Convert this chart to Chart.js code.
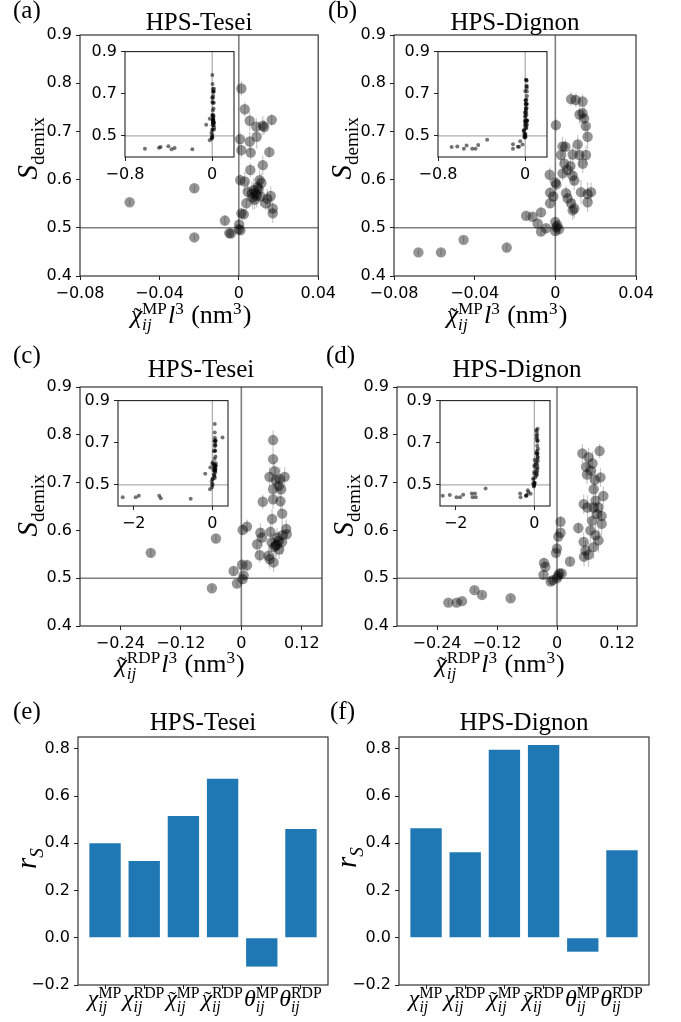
<!DOCTYPE html>
<html>
<head>
<meta charset="utf-8">
<script src="https://cdn.jsdelivr.net/npm/chart.js@4.4.1/dist/chart.umd.min.js"></script>
<style>
  body { margin: 0; width: 681px; height: 1022px; position: relative; background: #fff; overflow: hidden; }
  canvas { position: absolute; }
</style>
</head>
<body>
<script>
// ---- data ----
// (a) HPS-Tesei, MP parameter (last points only show in the inset)
const aX = [-0.055, -0.0224, -0.0224, -0.0070, -0.0048, -0.0040, 0.0000, 0.0008, 0.0002, 0.0013, 0.0025, 0.0007, 0.0013, 0.0030, 0.0055, 0.0088, 0.0121, 0.0128, 0.0166, 0.0006, 0.0055, 0.0013, 0.0060, 0.0154, 0.0121, 0.0058, 0.0030, 0.0105, 0.0045, 0.0065, 0.0090, 0.0038, 0.0080, 0.0144, 0.0161, 0.0171, 0.0171, 0.0135, 0.0114, 0.0090, 0.0075, 0.0100, 0.0085, 0.0110, 0.0070, 0.0095, -0.617, -0.488, -0.473, -0.402, -0.372, -0.345, -0.182];
const aY = [0.553, 0.582, 0.480, 0.515, 0.489, 0.488, 0.497, 0.495, 0.507, 0.530, 0.528, 0.599, 0.789, 0.746, 0.722, 0.710, 0.712, 0.709, 0.724, 0.684, 0.679, 0.661, 0.656, 0.657, 0.630, 0.620, 0.596, 0.599, 0.575, 0.571, 0.567, 0.551, 0.558, 0.560, 0.566, 0.540, 0.530, 0.551, 0.593, 0.689, 0.578, 0.580, 0.572, 0.565, 0.563, 0.585, 0.439, 0.444, 0.448, 0.451, 0.437, 0.443, 0.437];
const aE = [0.006, 0.008, 0.006, 0.010, 0.006, 0.006, 0.010, 0.008, 0.008, 0.012, 0.010, 0.012, 0.015, 0.015, 0.020, 0.018, 0.020, 0.015, 0.012, 0.015, 0.020, 0.015, 0.015, 0.012, 0.020, 0.015, 0.020, 0.020, 0.020, 0.025, 0.025, 0.015, 0.020, 0.020, 0.020, 0.015, 0.020, 0.015, 0.020, 0.025, 0.025, 0.020, 0.020, 0.020, 0.025, 0.020, 0.005, 0.005, 0.005, 0.005, 0.005, 0.005, 0.005];
// (b) HPS-Dignon, MP
const bX = [-0.0679, -0.0567, -0.0455, -0.0241, -0.0145, -0.0113, -0.0088, -0.0071, -0.0071, -0.0046, -0.0026, -0.0026, -0.0010, 0.0000, 0.0005, 0.0000, 0.0000, 0.0005, 0.0018, 0.0003, 0.0028, 0.0045, 0.0036, 0.0050, 0.0036, 0.0060, 0.0075, 0.0078, 0.0102, 0.0135, 0.0135, 0.0120, 0.0143, 0.0151, 0.0160, 0.0111, 0.0086, 0.0119, 0.0152, 0.0136, 0.0086, 0.0094, 0.0053, 0.0061, 0.0078, 0.0094, 0.0086, 0.0127, 0.0160, 0.0177, 0.0160, -0.0028, 0.0010, -0.675, -0.623, -0.563, -0.538, -0.486, -0.456, -0.431, -0.349, -0.112, -0.112];
const bY = [0.449, 0.449, 0.475, 0.459, 0.525, 0.523, 0.509, 0.532, 0.492, 0.499, 0.551, 0.573, 0.565, 0.594, 0.590, 0.512, 0.493, 0.501, 0.497, 0.713, 0.651, 0.633, 0.669, 0.668, 0.613, 0.620, 0.628, 0.767, 0.765, 0.762, 0.738, 0.735, 0.727, 0.711, 0.689, 0.673, 0.652, 0.651, 0.651, 0.633, 0.608, 0.598, 0.572, 0.561, 0.551, 0.540, 0.536, 0.574, 0.570, 0.574, 0.553, 0.610, 0.505, 0.447, 0.450, 0.439, 0.455, 0.439, 0.439, 0.457, 0.482, 0.460, 0.439];
const bE = [0.006, 0.006, 0.006, 0.008, 0.008, 0.008, 0.008, 0.010, 0.008, 0.008, 0.010, 0.012, 0.010, 0.012, 0.012, 0.010, 0.008, 0.008, 0.008, 0.015, 0.020, 0.015, 0.020, 0.015, 0.015, 0.015, 0.020, 0.015, 0.015, 0.015, 0.020, 0.020, 0.025, 0.025, 0.025, 0.020, 0.020, 0.025, 0.020, 0.020, 0.020, 0.020, 0.015, 0.015, 0.020, 0.020, 0.020, 0.025, 0.025, 0.020, 0.020, 0.015, 0.010, 0.005, 0.005, 0.005, 0.005, 0.005, 0.005, 0.005, 0.005, 0.005, 0.005];
// (c) HPS-Tesei, RDP
const cX = [-0.1797, -0.0504, -0.0584, -0.0153, -0.0086, 0.0026, 0.0046, 0.0013, 0.0113, 0.0026, 0.0113, 0.0425, 0.0312, 0.0378, 0.0412, 0.0365, 0.0630, 0.0630, 0.0660, 0.0558, 0.0680, 0.0763, 0.0860, 0.0743, 0.0790, 0.0630, 0.0630, 0.0776, 0.0810, 0.0610, 0.0889, 0.0900, 0.0577, 0.0600, 0.0650, 0.0700, 0.0750, 0.0800, 0.0540, 0.0640, 0.0560, 0.0740, 0.0680, 0.0820, 0.0710, -2.28, -1.95, -1.87, -1.35, -1.31, -0.55, 0.26];
const cY = [0.553, 0.583, 0.479, 0.515, 0.489, 0.498, 0.506, 0.528, 0.527, 0.601, 0.608, 0.660, 0.571, 0.595, 0.585, 0.548, 0.789, 0.749, 0.724, 0.712, 0.705, 0.707, 0.712, 0.693, 0.686, 0.686, 0.665, 0.661, 0.635, 0.624, 0.603, 0.592, 0.597, 0.575, 0.565, 0.570, 0.560, 0.575, 0.547, 0.533, 0.540, 0.578, 0.568, 0.590, 0.585, 0.442, 0.442, 0.449, 0.449, 0.437, 0.434, 0.725];
const cE = [0.008, 0.008, 0.006, 0.010, 0.008, 0.010, 0.010, 0.010, 0.012, 0.012, 0.015, 0.015, 0.020, 0.020, 0.020, 0.015, 0.020, 0.020, 0.020, 0.020, 0.025, 0.025, 0.020, 0.025, 0.020, 0.025, 0.020, 0.020, 0.025, 0.020, 0.020, 0.020, 0.020, 0.020, 0.020, 0.025, 0.020, 0.025, 0.020, 0.020, 0.020, 0.020, 0.025, 0.020, 0.020, 0.005, 0.005, 0.005, 0.005, 0.005, 0.005, 0.005];
// (d) HPS-Dignon, RDP
const dX = [-0.2173, -0.2007, -0.165, -0.0927, -0.026, -0.0233, -0.027, -0.0127, -0.0087, 0.0047, 0.0, 0.0093, 0.002, 0.0, -0.002, 0.0027, 0.007, 0.007, 0.026, 0.0427, 0.0507, 0.063, 0.058, 0.071, 0.060, 0.068, 0.076, 0.087, 0.0853, 0.0733, 0.0534, 0.061, 0.073, 0.083, 0.077, 0.080, 0.0893, 0.0893, 0.0927, 0.070, 0.0667, 0.077, 0.0533, 0.083, 0.057, 0.063, 0.054, 0.073, -2.33, -2.15, -1.98, -1.89, -1.81, -1.59, -1.57, -1.51, -1.49, -1.24, -0.36, -0.35, -0.19, -0.15];
const dY = [0.449, 0.449, 0.475, 0.458, 0.532, 0.524, 0.507, 0.493, 0.496, 0.510, 0.500, 0.510, 0.505, 0.562, 0.553, 0.587, 0.595, 0.618, 0.535, 0.605, 0.761, 0.753, 0.733, 0.740, 0.717, 0.725, 0.706, 0.711, 0.766, 0.686, 0.655, 0.648, 0.648, 0.648, 0.662, 0.634, 0.630, 0.614, 0.672, 0.620, 0.600, 0.590, 0.576, 0.579, 0.558, 0.549, 0.545, 0.565, 0.449, 0.452, 0.442, 0.442, 0.453, 0.459, 0.442, 0.459, 0.442, 0.483, 0.459, 0.442, 0.452, 0.465];
const dE = [0.006, 0.006, 0.006, 0.006, 0.010, 0.010, 0.010, 0.008, 0.008, 0.010, 0.010, 0.010, 0.010, 0.012, 0.012, 0.012, 0.012, 0.012, 0.010, 0.012, 0.020, 0.020, 0.020, 0.025, 0.020, 0.025, 0.020, 0.020, 0.015, 0.025, 0.020, 0.025, 0.025, 0.025, 0.025, 0.020, 0.025, 0.025, 0.020, 0.025, 0.025, 0.025, 0.020, 0.025, 0.020, 0.025, 0.020, 0.025, 0.005, 0.005, 0.005, 0.005, 0.005, 0.005, 0.005, 0.005, 0.005, 0.005, 0.005, 0.005, 0.005, 0.005];
// (e), (f) Spearman r_S
const teseiR = [0.400, 0.325, 0.516, 0.673, -0.122, 0.461];
const dignonR = [0.464, 0.362, 0.796, 0.816, -0.059, 0.371];
const barCats = [
  [{ t: 'χ', it: 1 }, { sub: 'ij', sup: 'MP' }],
  [{ t: 'χ', it: 1 }, { sub: 'ij', sup: 'RDP' }],
  [{ t: 'χ', it: 1, tilde: 1 }, { sub: 'ij', sup: 'MP' }],
  [{ t: 'χ', it: 1, tilde: 1 }, { sub: 'ij', sup: 'RDP' }],
  [{ t: 'θ', it: 1 }, { sub: 'ij', sup: 'MP' }],
  [{ t: 'θ', it: 1 }, { sub: 'ij', sup: 'RDP' }]
];
// ticks
const sTicks = [0.4, 0.5, 0.6, 0.7, 0.8, 0.9];
const mpTicks = [-0.08, -0.04, 0, 0.04];
const rdpTicks = [-0.24, -0.12, 0, 0.12];
const inYTicks = [0.5, 0.7, 0.9];
const inMpTicks = [-0.8, 0];
const inRdpTicks = [-2, 0];
const barYTicks = [-0.2, 0, 0.2, 0.4, 0.6, 0.8];
const barXTicks = [0, 1, 2, 3, 4, 5];

const SANS = '"DejaVu Sans", sans-serif';
const SERIF = '"Liberation Serif", "DejaVu Serif", serif';

const fmt = (d, plainZero) => v => v === 0 && plainZero ? '0' : (v < 0 ? '\u2212' : '') + Math.abs(v).toFixed(d);
const pts = (xs, ys) => xs.map((x, i) => ({ x: x, y: ys[i] }));

// little mathtext: base glyphs, stacked sub/sup, optional tilde
function drawMath(ctx, items, x, y, base) {
  const sc = base * 0.66;
  const font = (sz, it) => (it ? 'italic ' : '') + sz + 'px ' + SERIF;
  const segs = items.map(s => {
    if (s.t === undefined) {
      ctx.font = font(sc, true); const ws = s.sub ? ctx.measureText(s.sub).width : 0;
      ctx.font = font(sc, false); const wp = s.sup ? ctx.measureText(s.sup).width : 0;
      return Object.assign({ w: Math.max(ws, wp) + 1 }, s);
    }
    ctx.font = font(base, s.it);
    return Object.assign({ w: ctx.measureText(s.t).width }, s);
  });
  let cx = x - segs.reduce((a, s) => a + s.w, 0) / 2;
  ctx.textAlign = 'left';
  segs.forEach(s => {
    if (s.t !== undefined) {
      ctx.font = font(base, s.it);
      ctx.fillText(s.t, cx, y);
      if (s.tilde) {
        ctx.font = font(base * 0.9, false);
        const tw = ctx.measureText('\u02DC').width;
        ctx.fillText('\u02DC', cx + s.w / 2 - tw / 2 + base * 0.04, y + base * 0.02);
      }
    } else {
      if (s.sub) { ctx.font = font(sc, s.subUp ? false : true); ctx.fillText(s.sub, cx, y + base * 0.25); }
      if (s.sup) { ctx.font = font(sc, false); ctx.fillText(s.sup, cx, y - base * 0.33); }
    }
    cx += s.w;
  });
}

const frame = {
  id: 'frame',
  beforeDraw(chart, args, o) {
    const a = chart.chartArea, ctx = chart.ctx;
    if (o.bg) { ctx.save(); ctx.fillStyle = '#fff'; ctx.fillRect(a.left, a.top, a.width, a.height); ctx.restore(); }
  },
  beforeDatasetsDraw(chart, args, o) {
    const a = chart.chartArea, ctx = chart.ctx, sx = chart.scales.x, sy = chart.scales.y;
    ctx.save();
    ctx.beginPath(); ctx.rect(a.left, a.top, a.width, a.height); ctx.clip();
    if (o.err) {
      // vertical error bars under the markers
      ctx.strokeStyle = 'rgba(0,0,0,0.22)'; ctx.lineWidth = 1.2;
      ctx.beginPath();
      chart.data.datasets[0].data.forEach((p, i) => {
        const px = sx.getPixelForValue(p.x);
        ctx.moveTo(px, sy.getPixelForValue(p.y - o.err[i]));
        ctx.lineTo(px, sy.getPixelForValue(p.y + o.err[i]));
      });
      ctx.stroke();
    }
    ctx.strokeStyle = '#7f7f7f'; ctx.lineWidth = o.lw || 1;
    ctx.beginPath();
    if (o.refX !== undefined) { const px = sx.getPixelForValue(o.refX); ctx.moveTo(px, a.top); ctx.lineTo(px, a.bottom); }
    if (o.refY !== undefined) { const py = sy.getPixelForValue(o.refY); ctx.moveTo(a.left, py); ctx.lineTo(a.right, py); }
    ctx.stroke();
    ctx.restore();
  },
  afterDatasetsDraw(chart) {
    const a = chart.chartArea, ctx = chart.ctx;
    ctx.save(); ctx.strokeStyle = '#222'; ctx.lineWidth = 1.1;
    ctx.strokeRect(a.left, a.top, a.width, a.height);
    ctx.restore();
  }
};

const notes = {
  id: 'notes',
  afterDraw(chart, args, o) {
    if (!o.title) return;
    const ctx = chart.ctx, a = chart.chartArea, ox = o.ox, oy = o.oy;
    ctx.save();
    ctx.fillStyle = '#000'; ctx.textBaseline = 'alphabetic';
    ctx.font = '25px ' + SERIF; ctx.textAlign = 'left';
    ctx.fillText(o.letter, o.lx - ox, o.ly - oy);
    ctx.textAlign = 'center';
    ctx.fillText(o.title, (a.left + a.right) / 2, o.ty - oy);
    if (o.xlab) drawMath(ctx, o.xlab, o.xx - ox, o.xy - oy, 26);
    if (o.cats) o.cats.forEach((c, i) => drawMath(ctx, c, chart.scales.x.getPixelForValue(barXTicks[i]), o.cy - oy, 24));
    ctx.translate(o.yx - ox, o.yy - oy); ctx.rotate(-Math.PI / 2);
    drawMath(ctx, o.ylab, 0, 0, 29);
    ctx.restore();
  }
};

// axis box takes the whole margin so its labels are not clipped away
function axis(pos, min, max, ticks, f) {
  return {
    type: 'linear', position: pos, min: min, max: max, offset: false,
    afterBuildTicks(s) { s.ticks = ticks.map(v => ({ value: v })); },
    ticks: { color: '#000', font: { family: SANS, size: 16 }, padding: 4, maxRotation: 0, minRotation: 0, autoSkip: false, callback: f },
    grid: { display: true, drawOnChartArea: false, drawTicks: true, tickLength: 4, tickColor: '#222', tickWidth: 1, offset: false },
    border: { display: false }
  };
}

function mk(cell, plot, cfg, note) {
  const c = document.createElement('canvas');
  c.width = cell[2] - cell[0]; c.height = cell[3] - cell[1];
  Object.assign(c.style, { left: cell[0] + 'px', top: cell[1] + 'px', width: c.width + 'px', height: c.height + 'px' });
  document.body.appendChild(c);
  const o = cfg.options;
  o.responsive = false; o.animation = false; o.events = []; o.devicePixelRatio = 1;
  o.layout = { padding: { left: 0, top: plot[1] - cell[1], right: cell[2] - plot[2], bottom: 0 } };
  o.scales.x.afterFit = s => { s.height = cell[3] - plot[3]; };
  o.scales.y.afterFit = s => { s.width = plot[0] - cell[0]; };
  o.plugins = Object.assign({ legend: { display: false }, tooltip: { enabled: false } }, o.plugins);
  o.plugins.notes = Object.assign({ ox: cell[0], oy: cell[1] }, note || {});
  cfg.plugins = [frame, notes];
  return new Chart(c, cfg);
}

function scatter(cell, plot, xs, ys, es, xr, xt, yt, inset, note) {
  return mk(cell, plot, {
    type: 'scatter',
    data: { datasets: [{ data: pts(xs, ys), pointRadius: inset ? 2 : 5.2, pointHoverRadius: 0, borderWidth: 0,
      backgroundColor: inset ? 'rgba(0,0,0,0.55)' : 'rgba(0,0,0,0.42)' }] },
    options: {
      scales: {
        x: axis('bottom', xr[0], xr[1], xt, fmt(inset && xt === inRdpTicks ? 0 : (inset ? 1 : 2), true)),
        y: axis('left', 0.4, 0.9, yt, fmt(1, false))
      },
      plugins: { frame: { refX: 0, refY: 0.5, lw: inset ? 0.8 : 1.6, bg: inset, err: inset ? null : es } }
    }
  }, note);
}

function bars(cell, plot, vals, note) {
  return mk(cell, plot, {
    type: 'bar',
    data: { datasets: [{ data: pts(barXTicks, vals), backgroundColor: '#1f77b4', barPercentage: 0.8, categoryPercentage: 1 }] },
    options: {
      scales: {
        x: axis('bottom', -0.69, 5.69, barXTicks, () => ''),
        y: axis('left', -0.2, 0.85, barYTicks, fmt(1, false))
      },
      plugins: { frame: {} }
    }
  }, note);
}

const mpLab = [{ t: 'χ', it: 1, tilde: 1 }, { sub: 'ij', sup: 'MP' }, { t: 'l', it: 1 }, { sup: '3' }, { t: ' (nm' }, { sup: '3' }, { t: ')' }];
const rdpLab = [{ t: 'χ', it: 1, tilde: 1 }, { sub: 'ij', sup: 'RDP' }, { t: 'l', it: 1 }, { sup: '3' }, { t: ' (nm' }, { sup: '3' }, { t: ')' }];
const sLab = [{ t: 'S', it: 1 }, { sub: 'demix', subUp: 1 }];
const rLab = [{ t: 'r', it: 1 }, { sub: 'S' }];

// main panels
scatter([0, 0, 340, 340], [80, 35, 321, 276], aX, aY, aE, [-0.08, 0.04], mpTicks, sTicks, false,
  { letter: '(a)', lx: 13, ly: 18, title: 'HPS-Tesei', ty: 30, xlab: mpLab, xx: 191, xy: 323, ylab: sLab, yx: 37, yy: 149 });
scatter([320, 0, 681, 340], [394, 35, 636, 276], bX, bY, bE, [-0.08, 0.04], mpTicks, sTicks, false,
  { letter: '(b)', lx: 328, ly: 18, title: 'HPS-Dignon', ty: 30, xlab: mpLab, xx: 507, xy: 323, ylab: sLab, yx: 351, yy: 149 });
scatter([0, 340, 340, 690], [80, 387, 322, 626], cX, cY, cE, [-0.32, 0.16], rdpTicks, sTicks, false,
  { letter: '(c)', lx: 13, ly: 363, title: 'HPS-Tesei', ty: 377, xlab: rdpLab, xx: 180, xy: 672, ylab: sLab, yx: 37, yy: 506 });
scatter([320, 340, 681, 690], [397, 387, 637, 626], dX, dY, dE, [-0.32, 0.16], rdpTicks, sTicks, false,
  { letter: '(d)', lx: 326, ly: 363, title: 'HPS-Dignon', ty: 377, xlab: rdpLab, xx: 500, xy: 672, ylab: sLab, yx: 353, yy: 506 });
bars([0, 690, 340, 1022], [78, 737, 328, 985], teseiR,
  { letter: '(e)', lx: 13, ly: 719, title: 'HPS-Tesei', ty: 730, cats: barCats, cy: 1006, ylab: rLab, yx: 36, yy: 858 });
bars([320, 690, 681, 1022], [399, 737, 649, 985], dignonR,
  { letter: '(f)', lx: 330, ly: 719, title: 'HPS-Dignon', ty: 730, cats: barCats, cy: 1006, ylab: rLab, yx: 356, yy: 857 });

// insets (same data, wider x range)
const m = [44, 10, 8, 24];
const box = p => [p[0] - m[0], p[1] - m[1], p[2] + m[2], p[3] + m[3]];
const inA = [125, 48, 234, 157], inB = [438, 48, 547, 157], inC = [118, 397, 228, 506], inD = [440, 397, 550, 506];
scatter(box(inA), inA, aX, aY, aE, [-0.8, 0.2], inMpTicks, inYTicks, true);
scatter(box(inB), inB, bX, bY, bE, [-0.8, 0.2], inMpTicks, inYTicks, true);
scatter(box(inC), inC, cX, cY, cE, [-2.4, 0.4], inRdpTicks, inYTicks, true);
scatter(box(inD), inD, dX, dY, dE, [-2.4, 0.4], inRdpTicks, inYTicks, true);
</script>
</body>
</html>
